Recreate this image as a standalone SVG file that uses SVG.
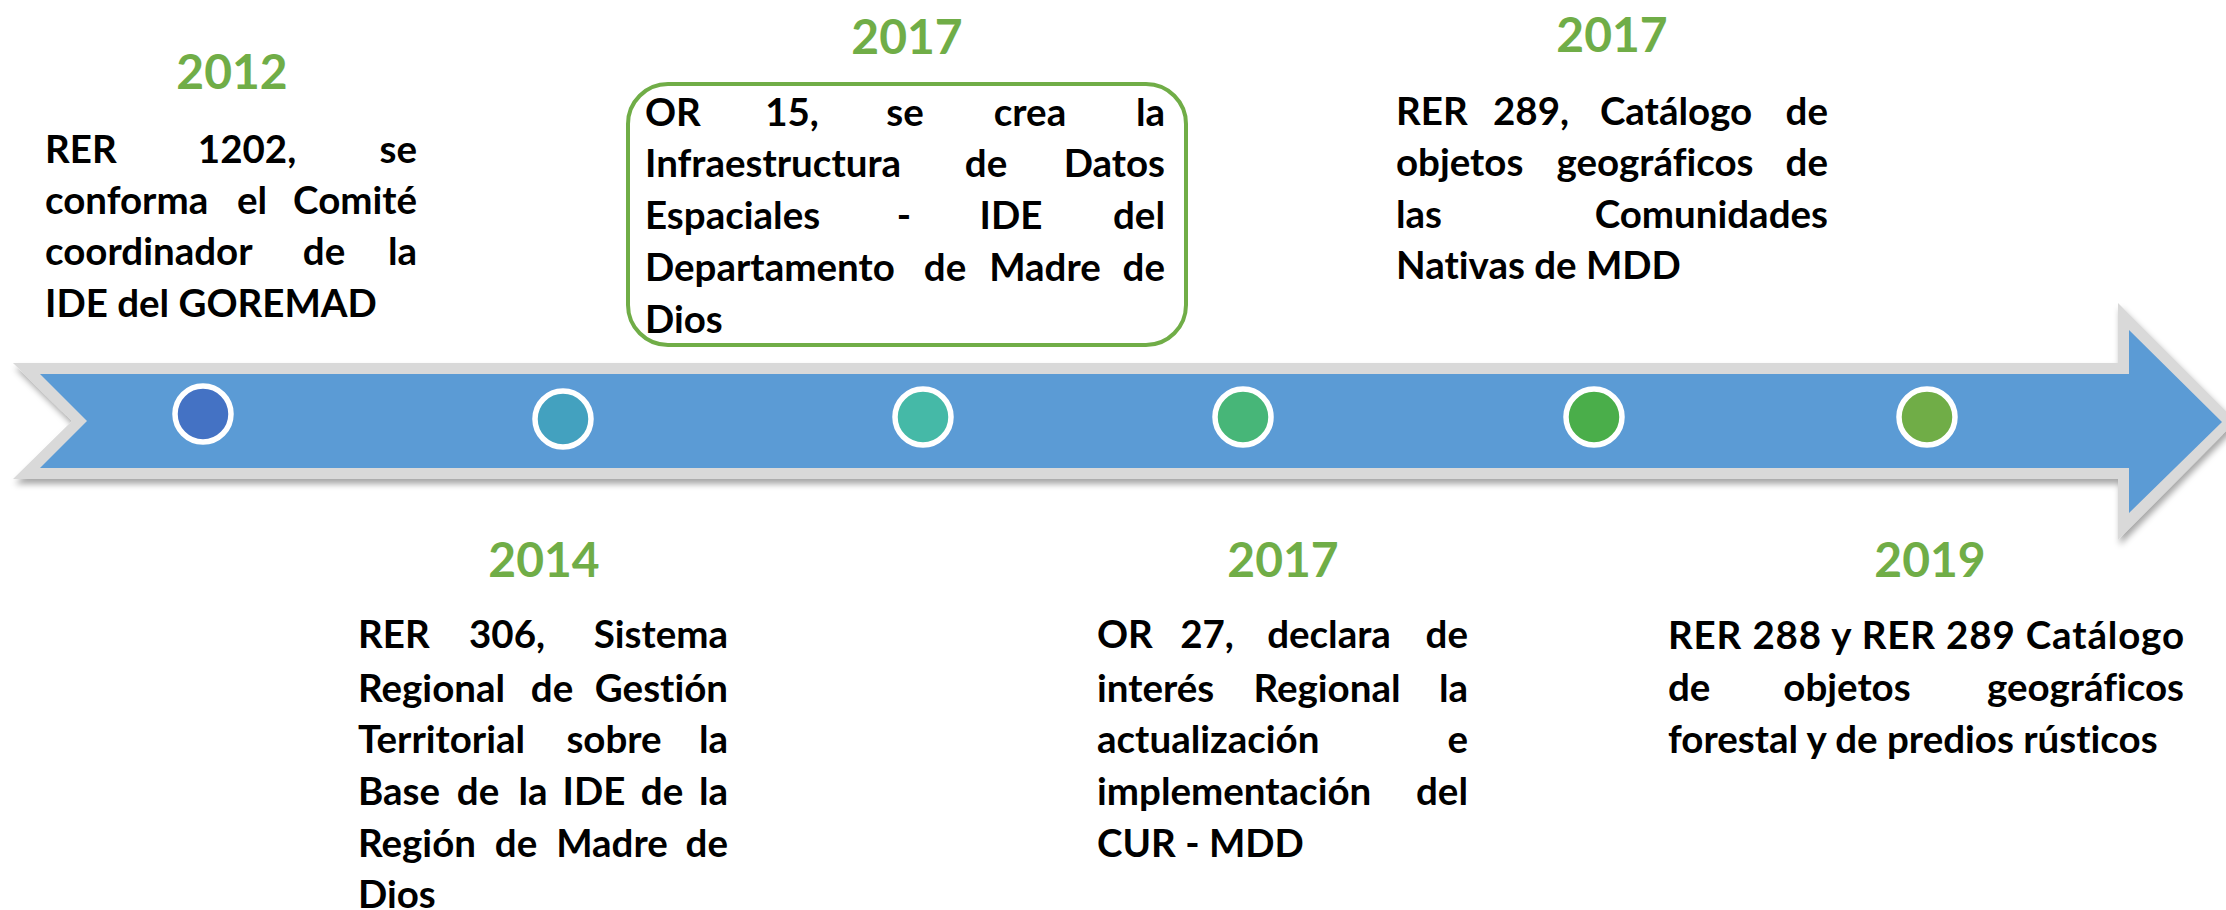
<svg xmlns="http://www.w3.org/2000/svg" width="2226" height="910" viewBox="0 0 2226 910">
<defs>
<filter id="sh" x="-5%" y="-20%" width="110%" height="150%">
<feDropShadow dx="2" dy="5" stdDeviation="3" flood-color="#000" flood-opacity="0.35"/>
</filter>
<style>
.yr{font-family:Lato,Carlito,"Liberation Sans",sans-serif;font-weight:bold;font-size:48px;fill:#70AD47;text-anchor:middle}
.t{font-family:Lato,Carlito,"Liberation Sans",sans-serif;font-weight:bold;font-size:38.5px;fill:#000;font-variant-ligatures:none}
.m{text-anchor:middle}
.e{text-anchor:end}
.dot{stroke:#fff;stroke-width:5.5}
</style>
</defs>
<rect width="2226" height="910" fill="#fff"/>
<g id="timeline-arrow">
<polygon points="13,363 2118,363 2118,303 2236,421 2118,540 2118,479 13,479 72,421" fill="#D9D9D9" filter="url(#sh)"/>
<polygon points="40,374 2129,374 2129,330 2222,422 2129,513 2129,468 40,468 87,421" fill="#5B9BD5"/>
</g>
<g id="connectors"></g>
<g id="node-2012">
<circle class="dot" cx="203" cy="414" r="28" fill="#4472C4"/>
<text class="yr" x="232" y="89">2012</text>
<text class="t" y="163"><tspan x="45">RER</tspan><tspan class="m" x="247">1202,</tspan><tspan class="e" x="417">se</tspan></text>
<text class="t" y="214"><tspan x="45">conforma</tspan><tspan class="m" x="252">el</tspan><tspan class="e" x="417">Comité</tspan></text>
<text class="t" y="265"><tspan x="45">coordinador</tspan><tspan class="m" x="324">de</tspan><tspan class="e" x="417">la</tspan></text>
<text class="t" x="45" y="317">IDE del GOREMAD</text>
</g>
<g id="node-2014">
<circle class="dot" cx="563" cy="419" r="28" fill="#43A1BF"/>
<text class="yr" x="544" y="577">2014</text>
<text class="t" y="648"><tspan x="358">RER</tspan><tspan class="m" x="507">306,</tspan><tspan class="e" x="728">Sistema</tspan></text>
<text class="t" y="702"><tspan x="358">Regional</tspan><tspan class="m" x="552">de</tspan><tspan class="e" x="728">Gestión</tspan></text>
<text class="t" y="753"><tspan x="358">Territorial</tspan><tspan class="m" x="614">sobre</tspan><tspan class="e" x="728">la</tspan></text>
<text class="t" y="805"><tspan x="358">Base</tspan><tspan class="m" x="478">de</tspan><tspan class="m" x="533">la</tspan><tspan class="m" x="594">IDE</tspan><tspan class="m" x="662">de</tspan><tspan class="e" x="728">la</tspan></text>
<text class="t" y="857"><tspan x="358">Región</tspan><tspan class="m" x="516">de</tspan><tspan class="m" x="612">Madre</tspan><tspan class="e" x="728">de</tspan></text>
<text class="t" x="358" y="908">Dios</text>
</g>
<g id="node-2017a">
<circle class="dot" cx="923" cy="417" r="28" fill="#45B9A7"/>
<text class="yr" x="907" y="54">2017</text>
<rect x="628" y="84" width="558" height="261" rx="40" fill="none" stroke="#70AD47" stroke-width="4"/>
<text class="t" y="126"><tspan x="645">OR</tspan><tspan class="m" x="792">15,</tspan><tspan class="m" x="905">se</tspan><tspan class="m" x="1030">crea</tspan><tspan class="e" x="1165">la</tspan></text>
<text class="t" y="177"><tspan x="645">Infraestructura</tspan><tspan class="m" x="986">de</tspan><tspan class="e" x="1165">Datos</tspan></text>
<text class="t" y="229"><tspan x="645">Espaciales</tspan><tspan class="m" x="904">-</tspan><tspan class="m" x="1011">IDE</tspan><tspan class="e" x="1165">del</tspan></text>
<text class="t" y="281"><tspan x="645">Departamento</tspan><tspan class="m" x="945">de</tspan><tspan class="m" x="1045">Madre</tspan><tspan class="e" x="1165">de</tspan></text>
<text class="t" x="645" y="333">Dios</text>
</g>
<g id="node-2017b">
<circle class="dot" cx="1243" cy="417" r="28" fill="#47B678"/>
<text class="yr" x="1283" y="577">2017</text>
<text class="t" y="648"><tspan x="1097">OR</tspan><tspan class="m" x="1207">27,</tspan><tspan class="m" x="1329">declara</tspan><tspan class="e" x="1468">de</tspan></text>
<text class="t" y="702"><tspan x="1097">interés</tspan><tspan class="m" x="1327">Regional</tspan><tspan class="e" x="1468">la</tspan></text>
<text class="t" y="753"><tspan x="1097">actualización</tspan><tspan class="e" x="1468">e</tspan></text>
<text class="t" y="805"><tspan x="1097">implementación</tspan><tspan class="e" x="1468">del</tspan></text>
<text class="t" x="1097" y="857">CUR - MDD</text>
</g>
<g id="node-2017c">
<circle class="dot" cx="1594" cy="417" r="28" fill="#4AAE4A"/>
<text class="yr" x="1612" y="52">2017</text>
<text class="t" y="125"><tspan x="1396">RER</tspan><tspan class="m" x="1531">289,</tspan><tspan class="m" x="1676">Catálogo</tspan><tspan class="e" x="1828">de</tspan></text>
<text class="t" y="176"><tspan x="1396">objetos</tspan><tspan class="m" x="1655">geográficos</tspan><tspan class="e" x="1828">de</tspan></text>
<text class="t" y="228"><tspan x="1396">las</tspan><tspan class="e" x="1828">Comunidades</tspan></text>
<text class="t" x="1396" y="279">Nativas de MDD</text>
</g>
<g id="node-2019">
<circle class="dot" cx="1927" cy="417" r="28" fill="#70AD47"/>
<text class="yr" x="1930" y="577">2019</text>
<text class="t" x="1668" y="649" textLength="516" lengthAdjust="spacing">RER 288 y RER 289 Catálogo</text>
<text class="t" y="701"><tspan x="1668">de</tspan><tspan class="m" x="1847">objetos</tspan><tspan class="e" x="2184">geográficos</tspan></text>
<text class="t" x="1668" y="753">forestal y de predios rústicos</text>
</g>
</svg>
